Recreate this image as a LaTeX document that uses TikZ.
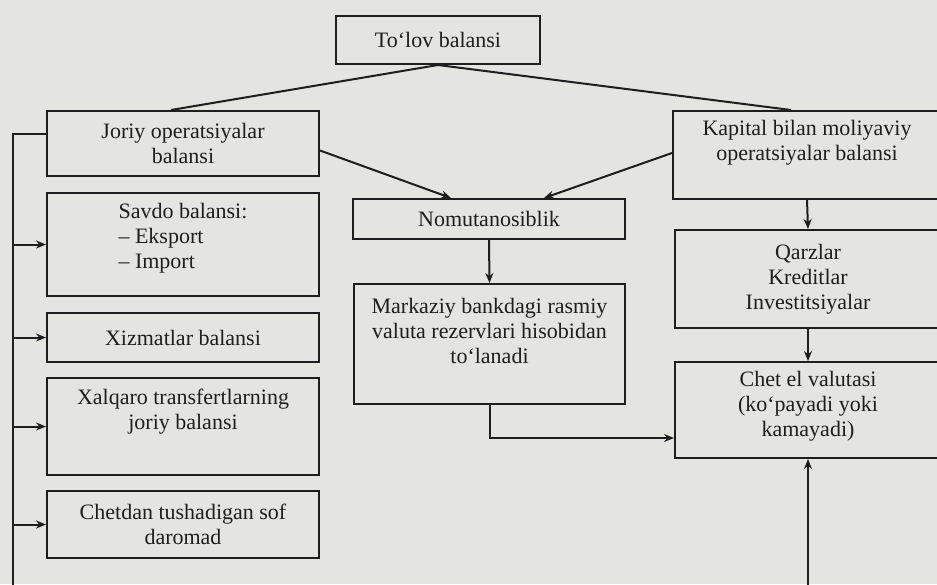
\documentclass[tikz,border=0pt]{standalone}
\usepackage{fontspec}
\setmainfont{Liberation Serif}
\usetikzlibrary{positioning,arrows.meta}

\definecolor{qogoz}{RGB}{228,228,224}
\definecolor{siyoh}{RGB}{30,30,30}

\begin{document}
\begin{tikzpicture}[
  x=1pt, y=-1pt,
  every path/.style={line width=2pt},
  matn/.style={text=siyoh,align=center,font=\fontsize{22}{25}\selectfont},
  blok/.style={draw=siyoh,line width=2pt,rectangle,matn,inner sep=0pt,anchor=north west},
  strelka/.style={draw=siyoh,line width=2pt,-{Stealth[length=10pt,width=8pt]}}
]
\fill[qogoz] (0,0) rectangle (937,584);
\useasboundingbox (0,0) rectangle (937,584);

% markazdagi ustun
\node[blok,minimum width=204pt,minimum height=48pt] (tolov) at (335,15) {To‘lov balansi};
\node[blok,minimum width=272pt,minimum height=40pt] (nomut) at (352,198) {Nomutanosiblik};
\node[blok,minimum width=271pt,minimum height=120pt,
  label={[matn,yshift=13pt]center:Markaziy bankdagi rasmiy\\valuta rezervlari hisobidan\\to‘lanadi}] (markaziy) at (353,283) {};

% chap ustun
\node[blok,minimum width=272pt,minimum height=65pt] (joriy) at (46,110) {Joriy operatsiyalar\\balansi};
\node[blok,minimum width=272pt,minimum height=103pt,
  label={[matn,align=left,yshift=6pt]center:Savdo balansi:\\– Eksport\\– Import}] (savdo) at (46,192) {};
\node[blok,minimum width=272pt,minimum height=49pt] (xizmat) at (46,312) {Xizmatlar balansi};
\node[blok,minimum width=272pt,minimum height=97pt,
  label={[matn,yshift=15pt]center:Xalqaro transfertlarning\\joriy balansi}] (xalqaro) at (46,377) {};
\node[blok,minimum width=272pt,minimum height=67pt] (chetdan) at (46,490) {Chetdan tushadigan sof\\daromad};

% o'ng ustun
\node[blok,minimum width=268pt,minimum height=88pt,
  label={[matn,yshift=12pt]center:Kapital bilan moliyaviy\\operatsiyalar balansi}] (kapital) at (672,110) {};
\node[blok,minimum width=266pt,minimum height=98pt] (qarz) at (674,229) {Qarzlar\\Kreditlar\\Investitsiyalar};
\node[blok,minimum width=266pt,minimum height=96pt,
  label={[matn,yshift=4pt]center:Chet el valutasi\\(ko‘payadi yoki\\kamayadi)}] (chet) at (674,361) {};

\coordinate (chap) at (13,590);
\coordinate (past) at (808,590);

\draw[siyoh] (tolov.south) -- ([xshift=-12pt]joriy.north);
\draw[siyoh] (tolov.south) -- ([xshift=-16pt]kapital.north);
\draw[strelka] ([yshift=-7pt]joriy.east) -- ([xshift=-38pt]nomut.north);
\draw[strelka] ([yshift=2pt]kapital.west) -- ([xshift=55pt]nomut.north);
\draw[strelka] (nomut.south) -- (markaziy.north);
\draw[strelka] (markaziy.south) |- ([yshift=-28pt]chet.west);
\draw[strelka] (kapital.south) -- (qarz.north);
\draw[strelka] (qarz.south) -- (chet.north);
\draw[strelka] (past) -- (past |- chet.south);

\draw[siyoh] ([yshift=9.5pt]joriy.west) -| (chap);
\foreach \b in {savdo,xizmat,xalqaro,chetdan}
  \draw[strelka] (\b.west -| chap) -- (\b.west);
\end{tikzpicture}
\end{document}
